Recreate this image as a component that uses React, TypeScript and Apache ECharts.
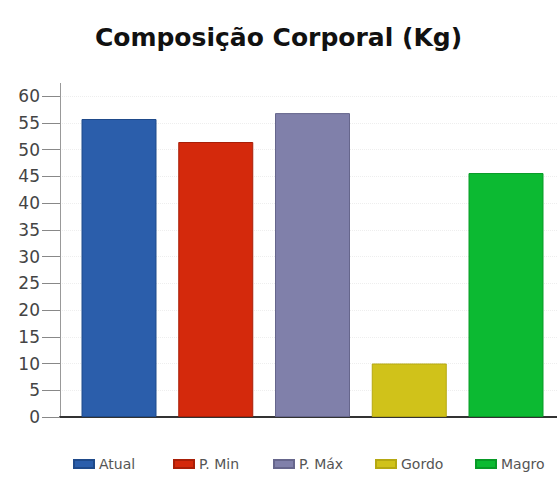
import React, { useEffect, useRef } from "react";
import * as echarts from "echarts";

const categories = [""];
const seriesNames = ["Atual", "P. Min", "P. Máx", "Gordo", "Magro"];
const seriesValues = [55.7, 51.4, 56.8, 10, 45.6];
const seriesColors = ["#2b5eab", "#d4290c", "#8080aa", "#d0c21a", "#0cba32"];
const borderColors = ["#1f4a8a", "#a81f08", "#66668c", "#b5a812", "#089a27"];
const legendLefts = [73, 173, 273, 375, 475];

export default function App() {
  const ref = useRef<HTMLDivElement>(null);
  useEffect(() => {
    const chart = echarts.init(ref.current!, undefined, { renderer: "svg" });
    chart.setOption({
      animation: false,
      backgroundColor: "#ffffff",
      title: {
        text: "Composição Corporal (Kg)",
        left: "center",
        top: 20,
        textStyle: { fontFamily: "DejaVu Sans", fontWeight: "bold", fontSize: 25, color: "#111" },
      },
      legend: seriesNames.map((name, i) => ({
        top: 457,
        left: legendLefts[i],
        icon: "rect",
        itemWidth: 20,
        itemHeight: 8,
        padding: 0,
        textStyle: { fontFamily: "DejaVu Sans", fontSize: 14, color: "#555" },
        data: [name],
      })),
      grid: { left: 60, right: -8, top: 96, bottom: 60, outerBoundsMode: "none", containLabel: false },
      xAxis: {
        type: "category",
        data: categories,
        axisLine: { lineStyle: { color: "#333", width: 2 } },
        axisTick: { show: false },
        axisLabel: { show: false },
      },
      yAxis: {
        type: "value",
        min: 0,
        max: 60,
        interval: 5,
        axisLine: { show: true, lineStyle: { color: "#999" } },
        axisTick: { show: true, length: 18, lineStyle: { color: "#888" } },
        axisLabel: { fontFamily: "DejaVu Sans", fontSize: 17, color: "#444", margin: 20 },
        splitLine: { lineStyle: { color: "#eeeeee", type: "dotted" } },
      },
      graphic: [
        { type: "line", shape: { x1: 60.5, y1: 83, x2: 60.5, y2: 96 }, style: { stroke: "#999", lineWidth: 1 } },
      ],
      series: seriesNames.map((name, i) => ({
        name,
        type: "bar",
        data: [seriesValues[i]],
        barWidth: 75,
        barGap: "29%",
        itemStyle: { color: seriesColors[i], borderColor: borderColors[i], borderWidth: 1 },
      })),
    });
    return () => chart.dispose();
  }, []);
  return (
    <div
      ref={ref}
      style={{ position: "absolute", left: 0, top: 0, width: 557, height: 477 }}
    />
  );
}
